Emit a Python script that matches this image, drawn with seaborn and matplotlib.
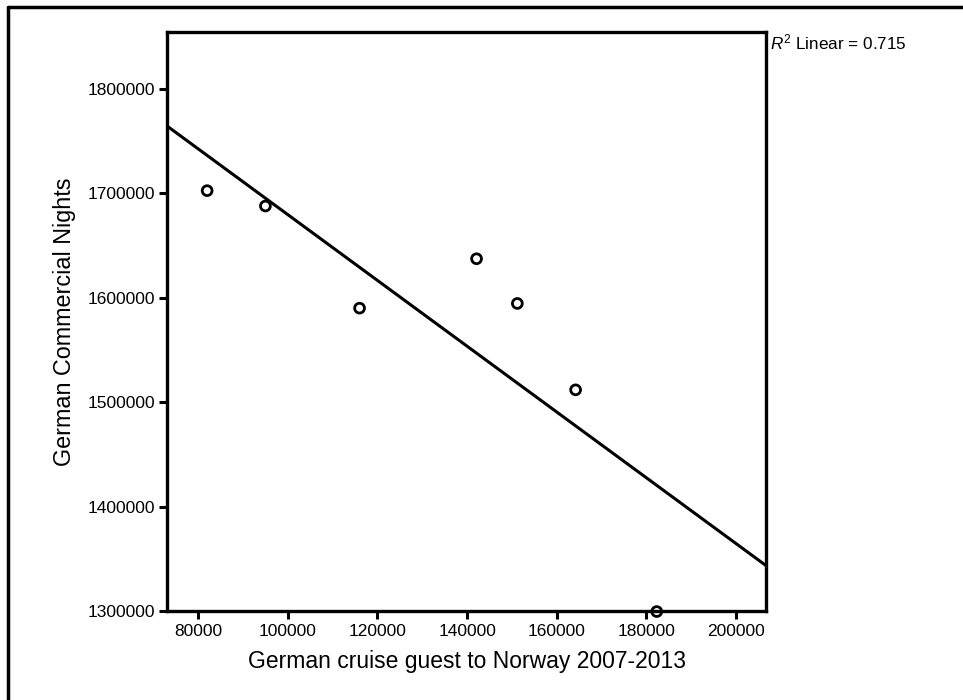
import matplotlib
matplotlib.use("Agg")
import matplotlib.pyplot as plt
from matplotlib.lines import Line2D
import pandas as pd
import seaborn as sns

# values
cruise_guests = [82000, 95000, 116000, 142100, 151200, 164200, 182300]
commercial_nights = [1702500, 1687800, 1590000, 1637300, 1594500, 1511800, 1299500]
x_ticks = [80000, 100000, 120000, 140000, 160000, 180000, 200000]
y_ticks = [1300000, 1400000, 1500000, 1600000, 1700000, 1800000]
r2_linear = 0.715

df = pd.DataFrame({"guests": cruise_guests, "nights": commercial_nights})

sns.set_style("white")
plt.rcParams["font.family"] = ["Liberation Sans", "DejaVu Sans"]
plt.rcParams["mathtext.fontset"] = "custom"
plt.rcParams["mathtext.rm"] = "Liberation Sans"
plt.rcParams["mathtext.it"] = "Liberation Sans:italic"
plt.rcParams["text.color"] = "black"
plt.rcParams["axes.labelcolor"] = "black"

fig = plt.figure(figsize=(9.63, 7.0), dpi=100)
ax = fig.add_axes([0.1739, 0.1271, 0.6212, 0.8271])

xlim = (73150, 206600)
ylim = (1300000, 1854350)
ax.set_xlim(*xlim)
ax.set_ylim(*ylim)

sns.regplot(data=df, x="guests", y="nights", scatter=False, ci=None,
            truncate=False, color="black", line_kws={"linewidth": 2.2}, ax=ax)
sns.scatterplot(data=df, x="guests", y="nights", marker="o", s=50,
                facecolor="none", edgecolor="black", linewidth=2.0,
                ax=ax, clip_on=False, zorder=5)

ax.set_xlim(*xlim)
ax.set_ylim(*ylim)
ax.set_xticks(x_ticks)
ax.set_yticks(y_ticks)
ax.set_xticklabels([str(v) for v in x_ticks])
ax.set_yticklabels([str(v) for v in y_ticks])
ax.tick_params(direction="out", length=6, width=2.2, colors="black",
               labelsize=12.5, pad=3, bottom=True, left=True)
for side in ["left", "bottom", "top", "right"]:
    ax.spines[side].set_color("black")
    ax.spines[side].set_linewidth(2.4)

ax.set_xlabel("German cruise guest to Norway 2007-2013", fontsize=16.5, labelpad=8)
ax.set_ylabel("German Commercial Nights", fontsize=16.8, labelpad=8)

fig.text(0.8, 0.94, rf"$R^2$ Linear = {r2_linear:.3f}", fontsize=12.3, va="center")

# outer frame (only top and left edges visible in the crop)
fig.add_artist(Line2D([0.008, 0.008], [0.0, 0.99], color="black", linewidth=2.5))
fig.add_artist(Line2D([0.008, 1.0], [0.99, 0.99], color="black", linewidth=2.5))

fig.savefig("out.png", dpi=100)
